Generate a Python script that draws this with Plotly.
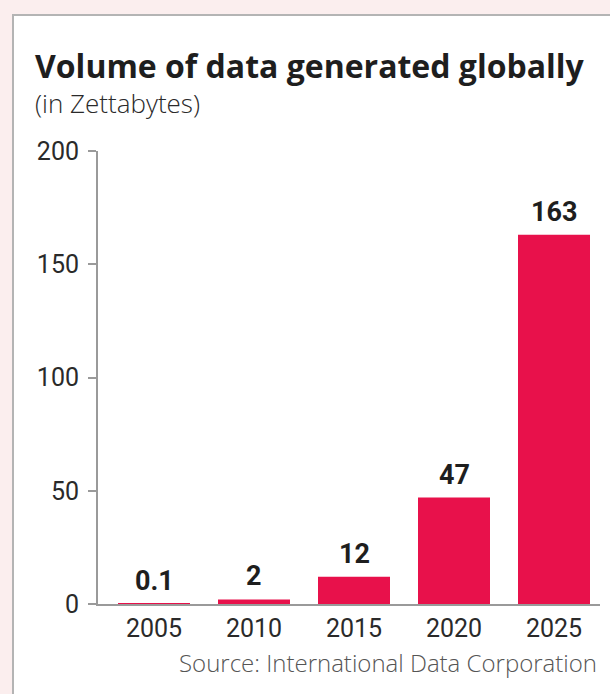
import plotly.graph_objects as go

years = ["2005", "2010", "2015", "2020", "2025"]
volumes = [0.1, 2, 12, 47, 163]
value_labels = ["0.1", "2", "12", "47", "163"]
y_ticks = [0, 50, 100, 150, 200]

W, H = 610, 694
L, R, T, B = 98, 10, 151, 90
PW, PH = W - L - R, H - T - B

def px(x):
    return (x - L) / PW

def py(y):
    return (H - B - y) / PH

BAR = "#e8114b"
NUMFONT = "Roboto"
TXTFONT = "Open Sans"

fig = go.Figure()
fig.add_trace(go.Bar(x=years, y=volumes, marker=dict(color=BAR, line=dict(width=0)),
                     width=0.72, hoverinfo="skip"))

for i, (v, lab) in enumerate(zip(volumes, value_labels)):
    fig.add_annotation(x=i, y=v, xref="x", yref="y", text="<b>" + lab + "</b>", showarrow=False,
                       yanchor="bottom", yshift=5,
                       font=dict(family=NUMFONT, size=27, color="#1e1e1e"))

shapes = [
    dict(type="rect", xref="paper", yref="paper", x0=px(13), x1=px(640), y0=py(15), y1=py(720),
         fillcolor="white", line=dict(color="#b4b4b4", width=2), layer="below"),
]
fig.update_layout(shapes=shapes)

fig.add_annotation(xref="paper", yref="paper", x=px(33), y=py(66), xanchor="left", yanchor="middle",
                   text="<b>Volume of data generated globally</b>", showarrow=False,
                   font=dict(family=TXTFONT, size=32, color="#1e1e1e"))
fig.add_annotation(xref="paper", yref="paper", x=px(33), y=py(103), xanchor="left", yanchor="middle",
                   text="(in Zettabytes)", showarrow=False,
                   font=dict(family=TXTFONT, size=26, color="#2a2a2a", weight=300))
fig.add_annotation(xref="paper", yref="paper", x=px(599), y=py(662), xanchor="right", yanchor="middle",
                   text="Source: International Data Corporation", showarrow=False,
                   font=dict(family=TXTFONT, size=24, color="#555555", weight=300))

fig.update_layout(
    width=W, height=H,
    margin=dict(l=L, r=R, t=T, b=B, pad=0),
    paper_bgcolor="#fbeeee",
    plot_bgcolor="rgba(0,0,0,0)",
    showlegend=False,
)
fig.update_xaxes(type="category", range=[-0.56, 4.46], showgrid=False, showline=True,
                 linecolor="#9a9a9a", linewidth=2, ticks="", zeroline=False,
                 tickfont=dict(family=NUMFONT, size=25, color="#2a2a2a"), ticklabelstandoff=1)
fig.update_yaxes(range=[0, 200], tickvals=y_ticks, showgrid=False, showline=True,
                 linecolor="#9a9a9a", linewidth=2, ticks="outside", ticklen=8, tickwidth=2,
                 tickcolor="#9a9a9a", zeroline=False,
                 tickfont=dict(family=NUMFONT, size=25, color="#2a2a2a"), ticklabelstandoff=4)

fig.write_html("out.html")
